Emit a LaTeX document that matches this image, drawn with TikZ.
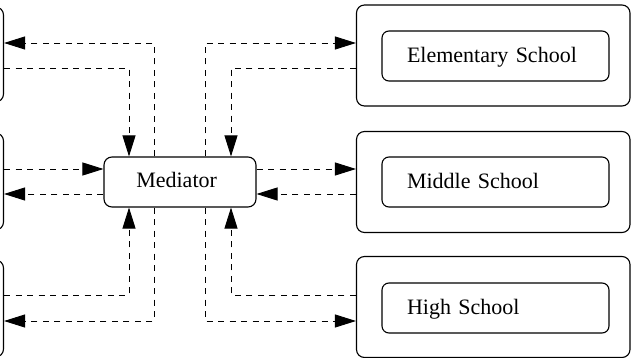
\documentclass[tikz,border=0pt]{standalone}
\usepackage{fontspec}
\setmainfont{Liberation Serif}
\usetikzlibrary{arrows.meta}

\tikzset{
  box/.style={draw, line width=1.1pt, inner sep=0pt},
  outerbox/.style={box, rounded corners=8pt, minimum width=273.5pt, minimum height=101pt},
  sidebox/.style={box, rounded corners=8pt, minimum width=103.5pt},
  innerbox/.style={box, rounded corners=7pt, minimum width=227pt, minimum height=50pt,
    text width=177pt, inner xsep=25pt, align=left, text height=16pt, text depth=3.4pt,
    font=\fontsize{22}{26}\selectfont},
  medbox/.style={box, rounded corners=8pt, minimum width=152pt, minimum height=50pt,
    text width=87.4pt, inner xsep=32.3pt, align=left, text height=15pt, text depth=4.4pt,
    font=\fontsize{22}{26}\selectfont},
  flow/.style={line width=0.9pt, dash pattern=on 6pt off 5.5pt,
    -{Triangle[length=21pt,width=13pt]}},
}

\begin{document}
\begin{tikzpicture}[x=1pt, y=-1pt]
  \useasboundingbox (0,0) rectangle (631,358);
  \clip (0,0) rectangle (631,358);

  % guide lines for the elbow connectors
  \coordinate (xL1) at (129,0);
  \coordinate (xL2) at (154,0);
  \coordinate (xR1) at (205,0);
  \coordinate (xR2) at (231,0);
  \coordinate (yT1) at (0,43);
  \coordinate (yT2) at (0,68);
  \coordinate (yM1) at (0,169);
  \coordinate (yM2) at (0,194);
  \coordinate (yB1) at (0,295);
  \coordinate (yB2) at (0,321);

  % colleagues on the left, cut off by the page edge
  \node[sidebox, minimum height=95pt] (LA) at (-48.25,54.5) {};
  \node[sidebox, minimum height=97pt] (LB) at (-48.25,181.5) {};
  \node[sidebox, minimum height=97pt] (LC) at (-48.25,308.5) {};

  % the mediator
  \node[medbox] (med) at (180,182) {Mediator};

  % schools on the right
  \node[outerbox] (E) at (493.25,55.5) {};
  \node[outerbox] (M) at (493.25,182) {};
  \node[outerbox] (H) at (493.25,307) {};
  \node[innerbox] (Ei) at (495.5,56) {Elementary School};
  \node[innerbox] (Mi) at (495.5,182) {Middle School};
  \node[innerbox] (Hi) at (495.5,308) {High School};

  % left-hand messages
  \draw[flow] (med.north -| xL2) |- (LA.east |- yT1);
  \draw[flow] (LA.east |- yT2) -| (med.north -| xL1);
  \draw[flow] (LB.east |- yM1) -- (med.west |- yM1);
  \draw[flow] (med.west |- yM2) -- (LB.east |- yM2);
  \draw[flow] (LC.east |- yB1) -| (med.south -| xL1);
  \draw[flow] (med.south -| xL2) |- (LC.east |- yB2);

  % right-hand messages
  \draw[flow] (med.north -| xR1) |- (E.west |- yT1);
  \draw[flow] (E.west |- yT2) -| (med.north -| xR2);
  \draw[flow] (med.east |- yM1) -- (M.west |- yM1);
  \draw[flow] (M.west |- yM2) -- (med.east |- yM2);
  \draw[flow] (H.west |- yB1) -| (med.south -| xR2);
  \draw[flow] (med.south -| xR1) |- (H.west |- yB2);
\end{tikzpicture}
\end{document}
